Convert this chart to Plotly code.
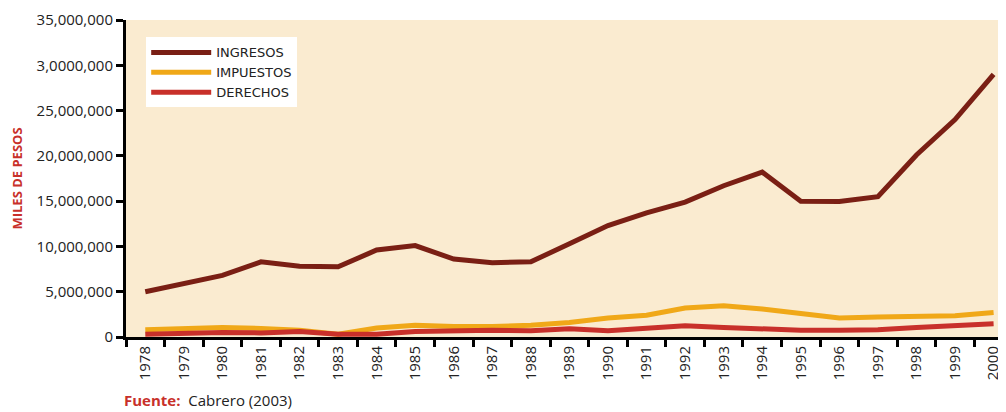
import plotly.graph_objects as go

years = [str(y) for y in range(1978, 2001)]

ingresos = [5.0, 5.9, 6.8, 8.3, 7.8, 7.75, 9.6, 10.1, 8.6, 8.2, 8.3, 10.3,
            12.3, 13.7, 14.9, 16.7, 18.2, 15.0, 14.95, 15.5, 20.1, 24.0, 29.0]
impuestos = [0.8, 0.95, 1.05, 0.95, 0.75, 0.3, 1.0, 1.3, 1.15, 1.15, 1.3, 1.6,
             2.1, 2.4, 3.2, 3.45, 3.1, 2.6, 2.1, 2.2, 2.3, 2.35, 2.7]
derechos = [0.3, 0.4, 0.5, 0.45, 0.6, 0.3, 0.3, 0.6, 0.7, 0.75, 0.7, 0.9,
            0.7, 1.0, 1.25, 1.05, 0.9, 0.75, 0.75, 0.8, 1.05, 1.2, 1.45]

# millones -> miles de pesos
ingresos = [v * 1e6 for v in ingresos]
impuestos = [v * 1e6 for v in impuestos]
derechos = [v * 1e6 for v in derechos]

y_ticks = [0, 5e6, 10e6, 15e6, 20e6, 25e6, 30e6, 35e6]
y_labels = ["0", "5,000,000", "10,000,000", "15,000,000", "20,000,000",
            "25,000,000", "3,0000,000", "35,000,000"]

fig = go.Figure()
fig.add_trace(go.Scatter(x=years, y=ingresos, mode="lines", name="INGRESOS",
                         line=dict(color="#7a1f14", width=5)))
fig.add_trace(go.Scatter(x=years, y=impuestos, mode="lines", name="IMPUESTOS",
                         line=dict(color="#f0a818", width=5)))
fig.add_trace(go.Scatter(x=years, y=derechos, mode="lines", name="DERECHOS",
                         line=dict(color="#c8302a", width=5)))

# page body has an 8px margin, so the figure is a bit smaller than the window
fig.update_layout(
    width=998, height=404,
    margin=dict(l=118, r=2, t=12, b=75),
    paper_bgcolor="white",
    plot_bgcolor="#faebd0",
    font=dict(family="Open Sans", size=15, color="#222"),
    legend=dict(x=0.023, y=0.945, xanchor="left", yanchor="top",
                bgcolor="white", borderwidth=0,
                font=dict(family="DejaVu Sans", size=13, color="#222"),
                itemwidth=60, tracegroupgap=2),
    xaxis=dict(type="category", range=[-0.5, 22.27], tickson="boundaries",
               ticks="outside", ticklen=7, tickwidth=3, tickcolor="black",
               tickangle=-90, showgrid=False, showline=True, linecolor="black",
               linewidth=3, zeroline=False, tickfont=dict(size=15)),
    yaxis=dict(range=[0, 35e6], tickvals=y_ticks, ticktext=y_labels,
               ticks="outside", ticklen=7, tickwidth=3, tickcolor="black",
               showgrid=False, showline=True, linecolor="black", linewidth=3,
               zeroline=False,
               title=dict(text="<b>MILES DE PESOS</b>", standoff=12,
                          font=dict(size=13, color="#c8302a"))),
)

fig.add_annotation(xref="paper", yref="paper", x=-0.005, y=-0.2,
                   xanchor="left", yanchor="middle", showarrow=False,
                   text="<b><span style='color:#c8302a'>Fuente:</span></b>  Cabrero (2003)",
                   font=dict(size=15, color="#222"))

fig.write_html("out.html")
